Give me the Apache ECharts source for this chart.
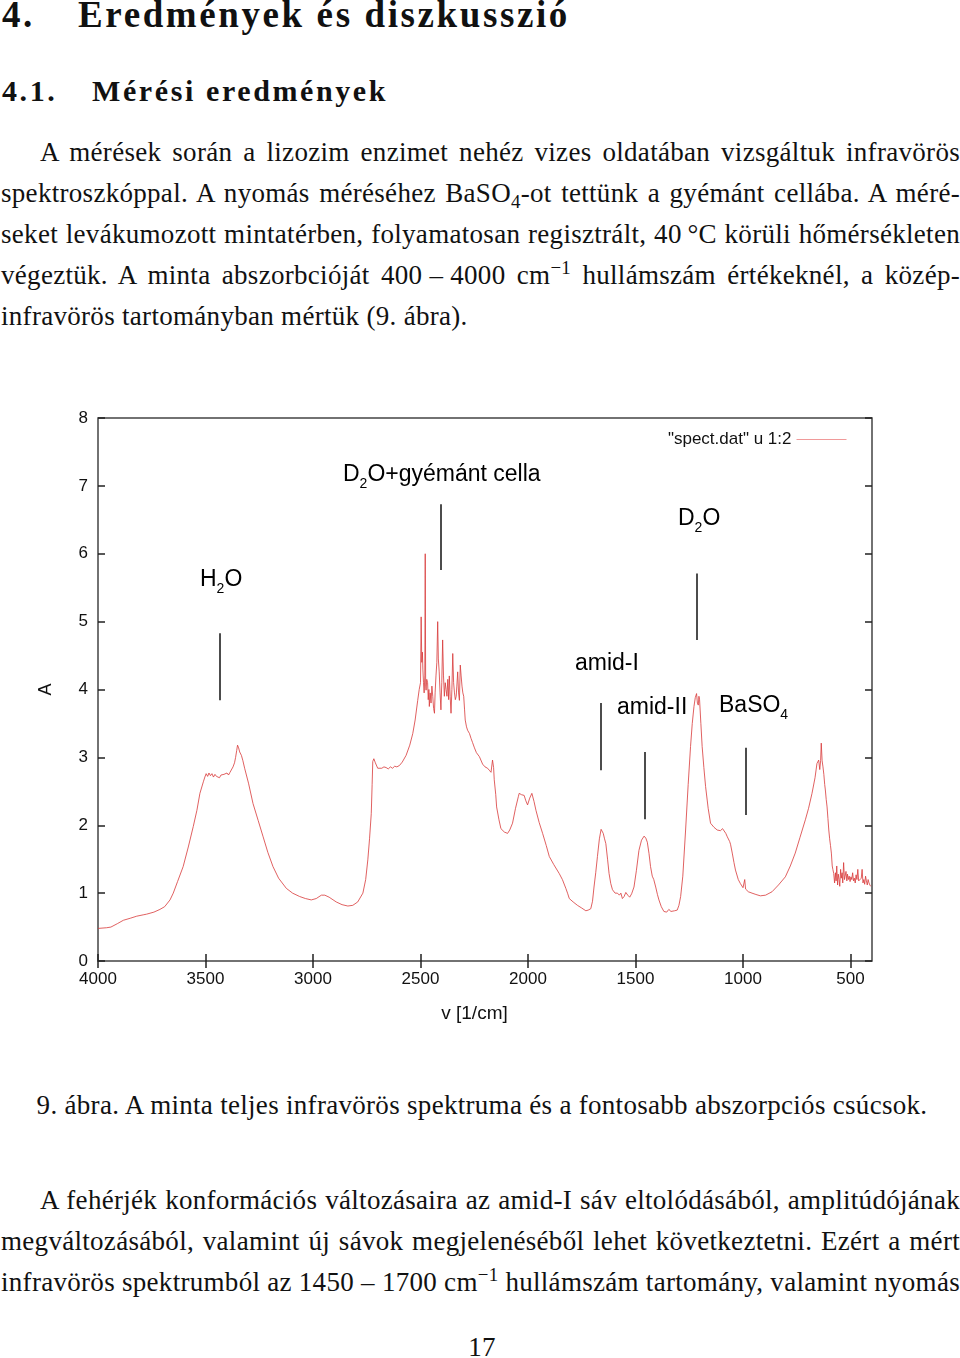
<!DOCTYPE html>
<html>
<head>
<meta charset="utf-8">
<script src="https://cdn.jsdelivr.net/npm/echarts@6/dist/echarts.min.js"></script>
<style>
html, body { margin: 0; padding: 0; background: #fff; }
#page { position: relative; width: 960px; height: 1358px; overflow: hidden; font-family: "Liberation Serif", serif; color: #111; }
.ln { position: absolute; white-space: nowrap; font-size: 27px; line-height: 27px; letter-spacing: 0.3px; }
.h1 { position: absolute; white-space: nowrap; font-size: 37px; line-height: 37px; font-weight: bold; letter-spacing: 2.6px; }
.h2 { position: absolute; white-space: nowrap; font-size: 30px; line-height: 30px; font-weight: bold; letter-spacing: 2.6px; }
sub, sup { line-height: 0; font-size: 0.7em; }
sub { vertical-align: -0.3em; }
sup { vertical-align: 0.55em; }
#chart { position: absolute; left: 0; top: 380px; width: 960px; height: 660px; }
</style>
</head>
<body>
<div id="page">
  <div class="h1" style="left:2px; top:-4px">4.</div>
  <div class="h1" style="left:78px; top:-4px">Eredmények és diszkusszió</div>
  <div class="h2" style="left:2px; top:76px">4.1.</div>
  <div class="h2" style="left:92px; top:76px">Mérési eredmények</div>

  <div class="ln j" style="left:40px; width:920px; top:139px"><span>A mérések során a lizozim enzimet nehéz vizes oldatában vizsgáltuk infravörös</span></div>
  <div class="ln j" style="left:1px; width:959px; top:180px"><span>spektroszkóppal. A nyomás méréséhez BaSO<sub>4</sub>-ot tettünk a gyémánt cellába. A méré-</span></div>
  <div class="ln j" style="left:1px; width:959px; top:221px"><span>seket levákumozott mintatérben, folyamatosan regisztrált, 40&#8201;°C körüli hőmérsékleten</span></div>
  <div class="ln j" style="left:1px; width:959px; top:262px"><span>végeztük. A minta abszorbcióját 400&#8197;–&#8197;4000 cm<sup>−1</sup> hullámszám értékeknél, a közép-</span></div>
  <div class="ln" style="left:1px; top:303px"><span>infravörös tartományban mértük (9. ábra).</span></div>

  <div id="chart"></div>

  <div class="ln" style="left:2px; width:960px; text-align:center; top:1092px">9. ábra. A minta teljes infravörös spektruma és a fontosabb abszorpciós csúcsok.</div>

  <div class="ln j" style="left:40px; width:920px; top:1187px"><span>A fehérjék konformációs változásaira az amid-I sáv eltolódásából, amplitúdójának</span></div>
  <div class="ln j" style="left:1px; width:959px; top:1228px"><span>megváltozásából, valamint új sávok megjelenéséből lehet következtetni. Ezért a mért</span></div>
  <div class="ln j" style="left:1px; width:959px; top:1269px"><span>infravörös spektrumból az 1450&#8197;–&#8197;1700 cm<sup>−1</sup> hullámszám tartomány, valamint nyomás</span></div>

  <div class="ln" style="left:2px; width:960px; text-align:center; top:1334px">17</div>
</div>

<script>
// justify each line by stretching only the ordinary spaces
document.querySelectorAll('.j').forEach(function (el) {
    var span = el.firstElementChild;
    var target = el.clientWidth;
    var w = span.getBoundingClientRect().width;
    var n = (span.textContent.match(/ /g) || []).length;
    if (n > 0) span.style.wordSpacing = ((target - w) / n) + 'px';
});

// spectrum (wavenumber in 1/cm, absorbance)
var wavenumber = [
 4000,3960,3940,3910,3882,3850,3820,3790,3774,3740,3712,3690,3681,3665,3650,3630,3604,3580,3557,3540,
 3526,3510,3503,3497,3490,3484,3477,3470,3463,3456,3449,3442,3435,3428,3421,3414,3407,3400,3393,3386,
 3379,3372,3365,3360,3355,3351,3346,3341,3337,3333,3326,3318,3300,3279,3255,3232,3210,3186,3160,3124,
 3095,3062,3035,3008,2985,2961,2945,2925,2892,2865,2838,2815,2792,2768,2755,2745,2737,2729,2725,2722,
 2717,2710,2699,2690,2680,2670,2660,2650,2640,2630,2620,2610,2598,2585,2567,2550,2536,2525,2513,2506,
 2500,2497,2494,2491,2489,2486,2483,2480,2478,2476,2474,2471,2467,2464,2461,2459,2455,2451,2447,2443,
 2439,2435,2432,2428,2424,2420,2417,2413,2409,2405,2401,2397,2393,2389,2385,2381,2377,2373,2369,2366,
 2362,2358,2354,2350,2346,2342,2338,2334,2331,2327,2323,2319,2315,2311,2307,2303,2299,2295,2292,2286,
 2281,2276,2272,2265,2258,2249,2240,2226,2211,2200,2188,2180,2172,2165,2160,2157,2150,2146,2135,2126,
 2110,2095,2085,2072,2058,2045,2041,2030,2018,2010,2002,1992,1982,1972,1963,1948,1932,1915,1901,1880,
 1855,1840,1824,1815,1808,1790,1770,1750,1731,1720,1708,1700,1693,1685,1677,1668,1660,1657,1650,1644,
 1638,1630,1623,1615,1607,1595,1584,1575,1568,1561,1553,1545,1536,1527,1518,1507,1496,1484,1472,1460,
 1452,1445,1437,1430,1422,1415,1406,1398,1391,1380,1368,1355,1345,1335,1329,1318,1306,1298,1290,1280,
 1267,1255,1244,1236,1228,1222,1216,1212,1208,1205,1202,1196,1190,1182,1174,1162,1151,1135,1120,1105,
 1095,1089,1080,1073,1062,1058,1050,1042,1035,1022,1012,1000,996,992,988,975,958,940,919,895,
 865,835,803,780,757,735,710,695,679,665,656,648,643,639,636,632,628,624,620,617,
 613,609,605,601,597,593,589,585,582,578,574,570,567,564,560,557,553,550,546,543,
 539,536,532,528,525,521,517,514,510,506,502,498,494,490,486,482,478,474,470,466,
 462,458,454,450,446,442,438,434,430,426,422,418,414,410,406
];
var absorbance = [
 0.48,0.49,0.50,0.55,0.60,0.63,0.66,0.68,0.69,0.72,0.76,0.80,0.82,0.90,1.00,1.17,1.39,1.68,1.98,2.22,
 2.47,2.64,2.71,2.76,2.72,2.77,2.73,2.76,2.71,2.75,2.72,2.74,2.70,2.74,2.72,2.75,2.73,2.77,2.74,2.78,
 2.80,2.86,2.92,3.00,3.10,3.18,3.14,3.08,3.10,3.03,2.95,2.84,2.62,2.32,2.07,1.83,1.60,1.39,1.22,1.07,
 1.00,0.95,0.92,0.90,0.92,0.97,0.97,0.94,0.87,0.83,0.81,0.82,0.87,1.00,1.20,1.49,1.80,2.17,2.60,2.94,
 2.98,2.92,2.84,2.86,2.84,2.86,2.85,2.83,2.86,2.84,2.87,2.86,2.88,2.93,3.03,3.18,3.35,3.55,3.84,4.00,
 4.10,5.07,4.40,4.55,4.30,4.10,3.95,4.20,6.00,4.05,3.99,4.15,4.10,3.85,4.00,3.75,3.95,3.80,4.05,3.90,
 3.72,3.65,3.95,4.20,4.40,5.00,4.45,4.26,3.95,3.70,4.10,4.73,4.20,3.90,4.10,4.00,3.90,4.15,3.85,4.20,
 3.90,3.65,4.00,4.53,4.10,3.95,3.85,3.90,4.05,4.26,3.95,3.84,4.36,4.20,4.05,3.95,3.90,3.70,3.55,3.45,
 3.40,3.38,3.35,3.28,3.22,3.14,3.07,3.01,2.90,2.86,2.84,2.81,2.78,2.96,2.85,2.67,2.45,2.27,2.08,1.95,
 1.90,1.88,1.93,2.03,2.25,2.42,2.47,2.45,2.44,2.36,2.30,2.40,2.47,2.35,2.22,2.04,1.88,1.70,1.54,1.42,
 1.29,1.20,1.07,0.99,0.92,0.87,0.82,0.78,0.74,0.75,0.77,0.88,1.09,1.30,1.54,1.80,1.94,1.95,1.88,1.80,
 1.73,1.50,1.29,1.14,1.05,1.00,1.00,0.97,1.00,0.92,0.95,1.01,0.97,0.94,0.99,1.09,1.33,1.63,1.78,1.84,
 1.81,1.75,1.58,1.39,1.25,1.20,1.09,0.98,0.90,0.80,0.73,0.72,0.76,0.73,0.75,0.74,0.75,0.82,0.95,1.25,
 1.93,2.60,3.16,3.50,3.75,3.88,3.94,3.80,3.77,3.90,3.85,3.50,3.16,2.85,2.57,2.25,2.03,1.97,1.93,1.92,
 1.95,1.93,1.88,1.83,1.76,1.72,1.59,1.45,1.34,1.20,1.14,1.08,1.07,1.20,1.06,1.02,1.00,0.98,0.96,0.97,
 1.02,1.12,1.24,1.40,1.59,1.82,2.08,2.25,2.47,2.70,2.91,2.96,2.82,2.95,3.21,2.95,2.86,2.75,2.60,2.52,
 2.38,2.27,2.10,1.93,1.80,1.70,1.59,1.40,1.35,1.29,1.15,1.30,1.18,1.40,1.12,1.28,1.20,1.10,1.35,1.22,
 1.30,1.15,1.45,1.20,1.25,1.32,1.18,1.28,1.20,1.25,1.17,1.24,1.20,1.30,1.18,1.22,1.15,1.27,1.20,1.35,
 1.18,1.20,1.16,1.22,1.35,1.15,1.20,1.13,1.25,1.18,1.12,1.20,1.15,1.12,1.10
];

var xTicks = [4000, 3500, 3000, 2500, 2000, 1500, 1000, 500];

// marker bars pointing at the bands
var markerWn   = [3434, 2407, 1214, 1660, 1456, 987];
var markerLow  = [3.84, 5.76, 4.73, 2.81, 2.09, 2.15];
var markerHigh = [4.83, 6.73, 5.71, 3.80, 3.08, 3.14];

var seriesName = '"spect.dat" u 1:2';

var myChart = echarts.init(document.getElementById('chart'), null, { renderer: 'canvas' });

var sans = '"Liberation Sans", Arial, sans-serif';
var subRich = {
    m: { fontSize: 23, fontFamily: sans, color: '#111', padding: [0, 0, 5, 0], verticalAlign: 'bottom' },
    s: { fontSize: 14, fontFamily: sans, color: '#111', verticalAlign: 'bottom' }
};
function label(txt, x, y) {
    return {
        type: 'text', x: x, y: y, silent: true,
        style: { text: txt, rich: subRich, verticalAlign: 'middle', align: 'left' }
    };
}

var markLines = markerWn.map(function (w, i) {
    return [{ coord: [w, markerLow[i]] }, { coord: [w, markerHigh[i]] }];
});

myChart.setOption({
    animation: false,
    textStyle: { fontFamily: sans },
    grid: { left: 98, right: 88, top: 38, bottom: 79, show: true, borderColor: '#444', borderWidth: 1.5, backgroundColor: 'transparent' },
    legend: {
        data: [seriesName],
        right: 108, top: 46,
        align: 'right',
        itemWidth: 50, itemHeight: 14,
        textStyle: { fontSize: 17, color: '#111', fontFamily: sans },
        itemStyle: { opacity: 0 },
        lineStyle: { color: '#f09a9a', width: 1, opacity: 1 }
    },
    xAxis: [{
        type: 'value', min: 400, max: 4000, inverse: true, position: 'bottom',
        name: 'v [1/cm]', nameLocation: 'middle', nameGap: 43,
        nameTextStyle: { fontSize: 19, color: '#111', padding: [0, 21, 0, 0] },
        axisLine: { show: false },
        splitLine: { show: false },
        axisTick: { inside: true, length: 7, customValues: xTicks, lineStyle: { color: '#222', width: 1.5 } },
        axisLabel: { customValues: xTicks, fontSize: 17, color: '#111', margin: 10,
            formatter: function (v) { return String(v); } }
    }, {
        type: 'value', min: 400, max: 4000, inverse: true, position: 'top',
        axisLine: { show: false },
        splitLine: { show: false },
        axisTick: { inside: true, length: 7, customValues: xTicks, lineStyle: { color: '#222', width: 1.5 } },
        axisLabel: { show: false }
    }],
    yAxis: [{
        type: 'value', min: 0, max: 8, interval: 1, position: 'left',
        name: 'A', nameLocation: 'middle', nameGap: 43,
        nameTextStyle: { fontSize: 18, color: '#111' },
        axisLine: { show: false },
        splitLine: { show: false },
        axisTick: { inside: true, length: 7, lineStyle: { color: '#222', width: 1.5 } },
        axisLabel: { fontSize: 17, color: '#111', margin: 10 }
    }, {
        type: 'value', min: 0, max: 8, interval: 1, position: 'right',
        axisLine: { show: false },
        splitLine: { show: false },
        axisTick: { inside: true, length: 7, lineStyle: { color: '#222', width: 1.5 } },
        axisLabel: { show: false }
    }],
    series: [{
        name: seriesName,
        type: 'line',
        symbol: 'none',
        xAxisIndex: 0, yAxisIndex: 0,
        data: wavenumber.map(function (w, i) { return [w, absorbance[i]]; }),
        lineStyle: { color: '#d83a3a', width: 1, opacity: 0.8 },
        itemStyle: { color: '#d83a3a' },
        markLine: {
            silent: true, symbol: 'none',
            label: { show: false },
            lineStyle: { color: '#111', width: 1.5, type: 'solid' },
            data: markLines
        }
    }],
    graphic: [
        label('{m|D}{s|2}{m|O+gyémánt cella}', 343, 97),
        label('{m|H}{s|2}{m|O}', 200, 202),
        label('{m|D}{s|2}{m|O}', 678, 141),
        label('{m|amid-I}', 575, 286),
        label('{m|amid-II}', 617, 330),
        label('{m|BaSO}{s|4}', 719, 328)
    ]
});
</script>
</body>
</html>
